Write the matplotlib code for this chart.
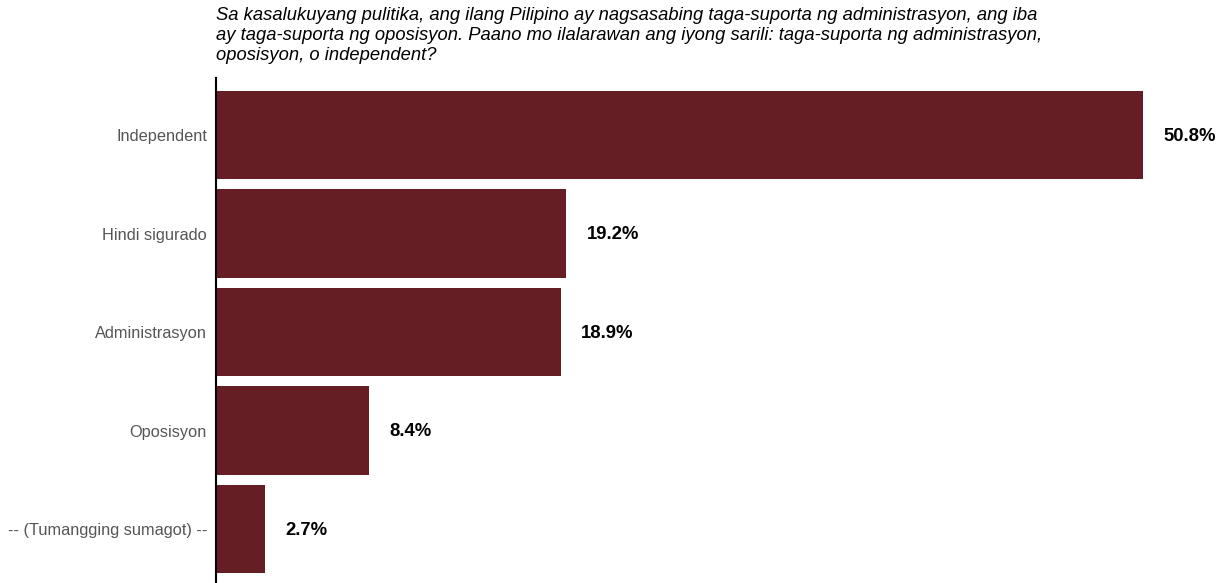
import matplotlib
matplotlib.use("Agg")
import matplotlib.pyplot as plt

plt.rcParams['font.family'] = ['Liberation Sans', 'DejaVu Sans']

categories = ['Independent', 'Hindi sigurado', 'Administrasyon', 'Oposisyon',
              '-- (Tumangging sumagot) --']
shares = [50.8, 19.2, 18.9, 8.4, 2.7]

title = ("Sa kasalukuyang pulitika, ang ilang Pilipino ay nagsasabing taga-suporta ng administrasyon, ang iba\n"
         "ay taga-suporta ng oposisyon. Paano mo ilalarawan ang iyong sarili: taga-suporta ng administrasyon,\n"
         "oposisyon, o independent?")

W, H = 1222, 583
fig = plt.figure(figsize=(W / 100, H / 100), dpi=100)
ax = fig.add_axes([216 / W, 0, 1 - 216 / W, (H - 78) / H])

pos = list(range(len(categories)))
ax.barh(pos, shares, height=0.9, color='#651E24')
ax.set_ylim(4.548, -0.579)
ax.set_xlim(0, 1006 / 18.25)

for p, v in zip(pos, shares):
    ax.annotate(f'{v}%', (v, p), xytext=(20, -1), textcoords='offset pixels',
                ha='left', va='center', fontsize=13.3, fontweight='bold', color='black')

ax.set_yticks(pos)
ax.set_yticklabels(categories, fontsize=11.8, color='#555555')
ax.tick_params(axis='y', length=0, pad=6.5)
ax.set_xticks([])
for s in ['top', 'right', 'bottom']:
    ax.spines[s].set_visible(False)
ax.spines['left'].set_linewidth(1.5)
ax.spines['left'].set_color('black')

fig.text(216 / W, 1 - 7 / H, title, ha='left', va='top', fontsize=13.25,
         fontstyle='italic', linespacing=1.22)

fig.savefig('out.png', dpi=100)
